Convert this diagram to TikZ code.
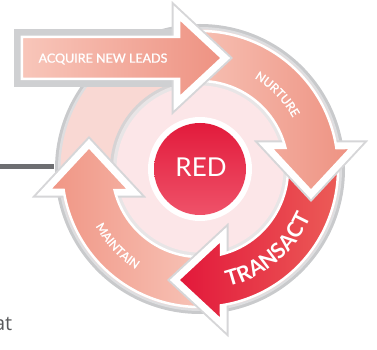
\documentclass[tikz,border=0pt]{standalone}
\usepackage{fontspec}
\setmainfont{Lato}
\newfontfamily\opensans{Open Sans}
\newfontfamily\latomed[FakeBold=1.2]{Lato}
\usetikzlibrary{decorations.text}
\definecolor{lineg}{HTML}{6D6E71}
\definecolor{atgray}{HTML}{58595B}
\definecolor{rimA}{HTML}{C9CACC}
\definecolor{rimB}{HTML}{DEDEE0}
\definecolor{palering}{HTML}{F9D8D3}
\definecolor{ringA}{HTML}{D6D3D4}
\definecolor{ringB}{HTML}{E8E5E6}
\definecolor{innerdisc}{HTML}{FCE6E8}
\definecolor{shadowg}{HTML}{D6D6D8}
\definecolor{framegray}{HTML}{CFD0D2}
\definecolor{nurL}{HTML}{F7C3B6}
\definecolor{nurR}{HTML}{EE9282}
\definecolor{traL}{HTML}{E2173A}
\definecolor{traR}{HTML}{EC5E58}
\definecolor{maiL}{HTML}{F09584}
\definecolor{maiR}{HTML}{F8C6BA}
\definecolor{redT}{HTML}{E21B3C}
\definecolor{redB}{HTML}{EF5269}
\newcommand\mybandpath[1]{({#1+95}:138) arc[start angle={#1+95}, end angle={#1+8.75}, radius=138] -- ({#1+7.92}:152.45) -- ({#1-11.21}:113.16) -- ({#1+16.48}:74.04) -- ({#1+13.81}:88) arc[start angle={#1+13.81}, end angle={#1+95}, radius=88] -- cycle}
\newcommand\myheadpath[1]{({#1+16.48}:74.04) -- ({#1+7.92}:152.45) -- ({#1-11.21}:113.16) -- cycle}
\newcommand\myacqpath{(-178,90) -- (-21,90) -- (-21,71) -- (22,111) -- (-21,151) -- (-21,132) -- (-178,132) -- cycle}
\newcommand\mybandarrow[3]{%
  \draw[line width=15, draw=shadowg, line join=miter] \myheadpath{#1};
  \draw[line width=11, draw=white, line join=miter] \myheadpath{#1};
  \shade[left color=#2, right color=#3, draw=white, line width=2.5, line join=miter] \mybandpath{#1};
}
\begin{document}
\begin{tikzpicture}[x=1pt,y=1pt,
  lbl/.style={text=white, inner sep=0}]
\useasboundingbox (-200,-181) rectangle (177,169);
% side line and cut text
\draw[line width=5, draw=lineg] (-200,2) -- (-146,2);
\node[anchor=base east, inner sep=0, text=atgray, font=\opensans\fontsize{20}{22}\selectfont] (attext) at (-187.5,-161) {at};
% discs
\fill[rimA] (0,0) circle (145);
\fill[rimB] (0,0) circle (142);
\fill[palering] (0,0) circle (139.5);
\fill[ringA] (0,0) circle (90);
\fill[ringB] (0,0) circle (87);
\fill[innerdisc] (0,0) circle (83.5);
% band arrows
\mybandarrow{-180}{maiL}{maiR}
\mybandarrow{-90}{traL}{traR}
\mybandarrow{0}{nurL}{nurR}
% acquire arrow
\draw[line width=16, draw=framegray] (-178,90) rectangle (-21,132);
\draw[line width=15, draw=shadowg, line join=miter] (-21,71) -- (22,111) -- (-21,151) -- cycle;
\draw[line width=11, draw=white, line join=miter] (-21,71) -- (22,111) -- (-21,151) -- cycle;
\shade[left color=maiR, right color=nurR, draw=white, line width=2.5, line join=miter] \myacqpath;
% centre
\fill[white] (0,0) circle (52);
\shade[top color=redT, bottom color=redB] (0,0) circle (46);
\node[lbl, font=\fontsize{26}{30}\selectfont] (red) at (1,2) {RED};
\node[lbl, font=\latomed\fontsize{12.5}{14}\selectfont] (acq) at (-97,110) {ACQUIRE NEW LEADS};
% curved labels
\path[decorate, decoration={text along path, text align=center, text color=white,
  text={|\latomed\fontsize{12}{14}\selectfont|NURTURE}}]
  (66:106) arc[start angle=66, end angle=22, radius=106];
\path[decorate, decoration={text along path, text align=center, text color=white,
  text={|\fontsize{21.5}{24}\selectfont\bfseries|TRANSACT}}]
  (-90:121) arc[start angle=-90, end angle=-10, radius=121];
\path[decorate, decoration={text along path, text align=center, text color=white,
  text={|\latomed\fontsize{12}{14}\selectfont|MAINTAIN}}]
  (196:119) arc[start angle=196, end angle=250, radius=119];
\end{tikzpicture}
\end{document}
